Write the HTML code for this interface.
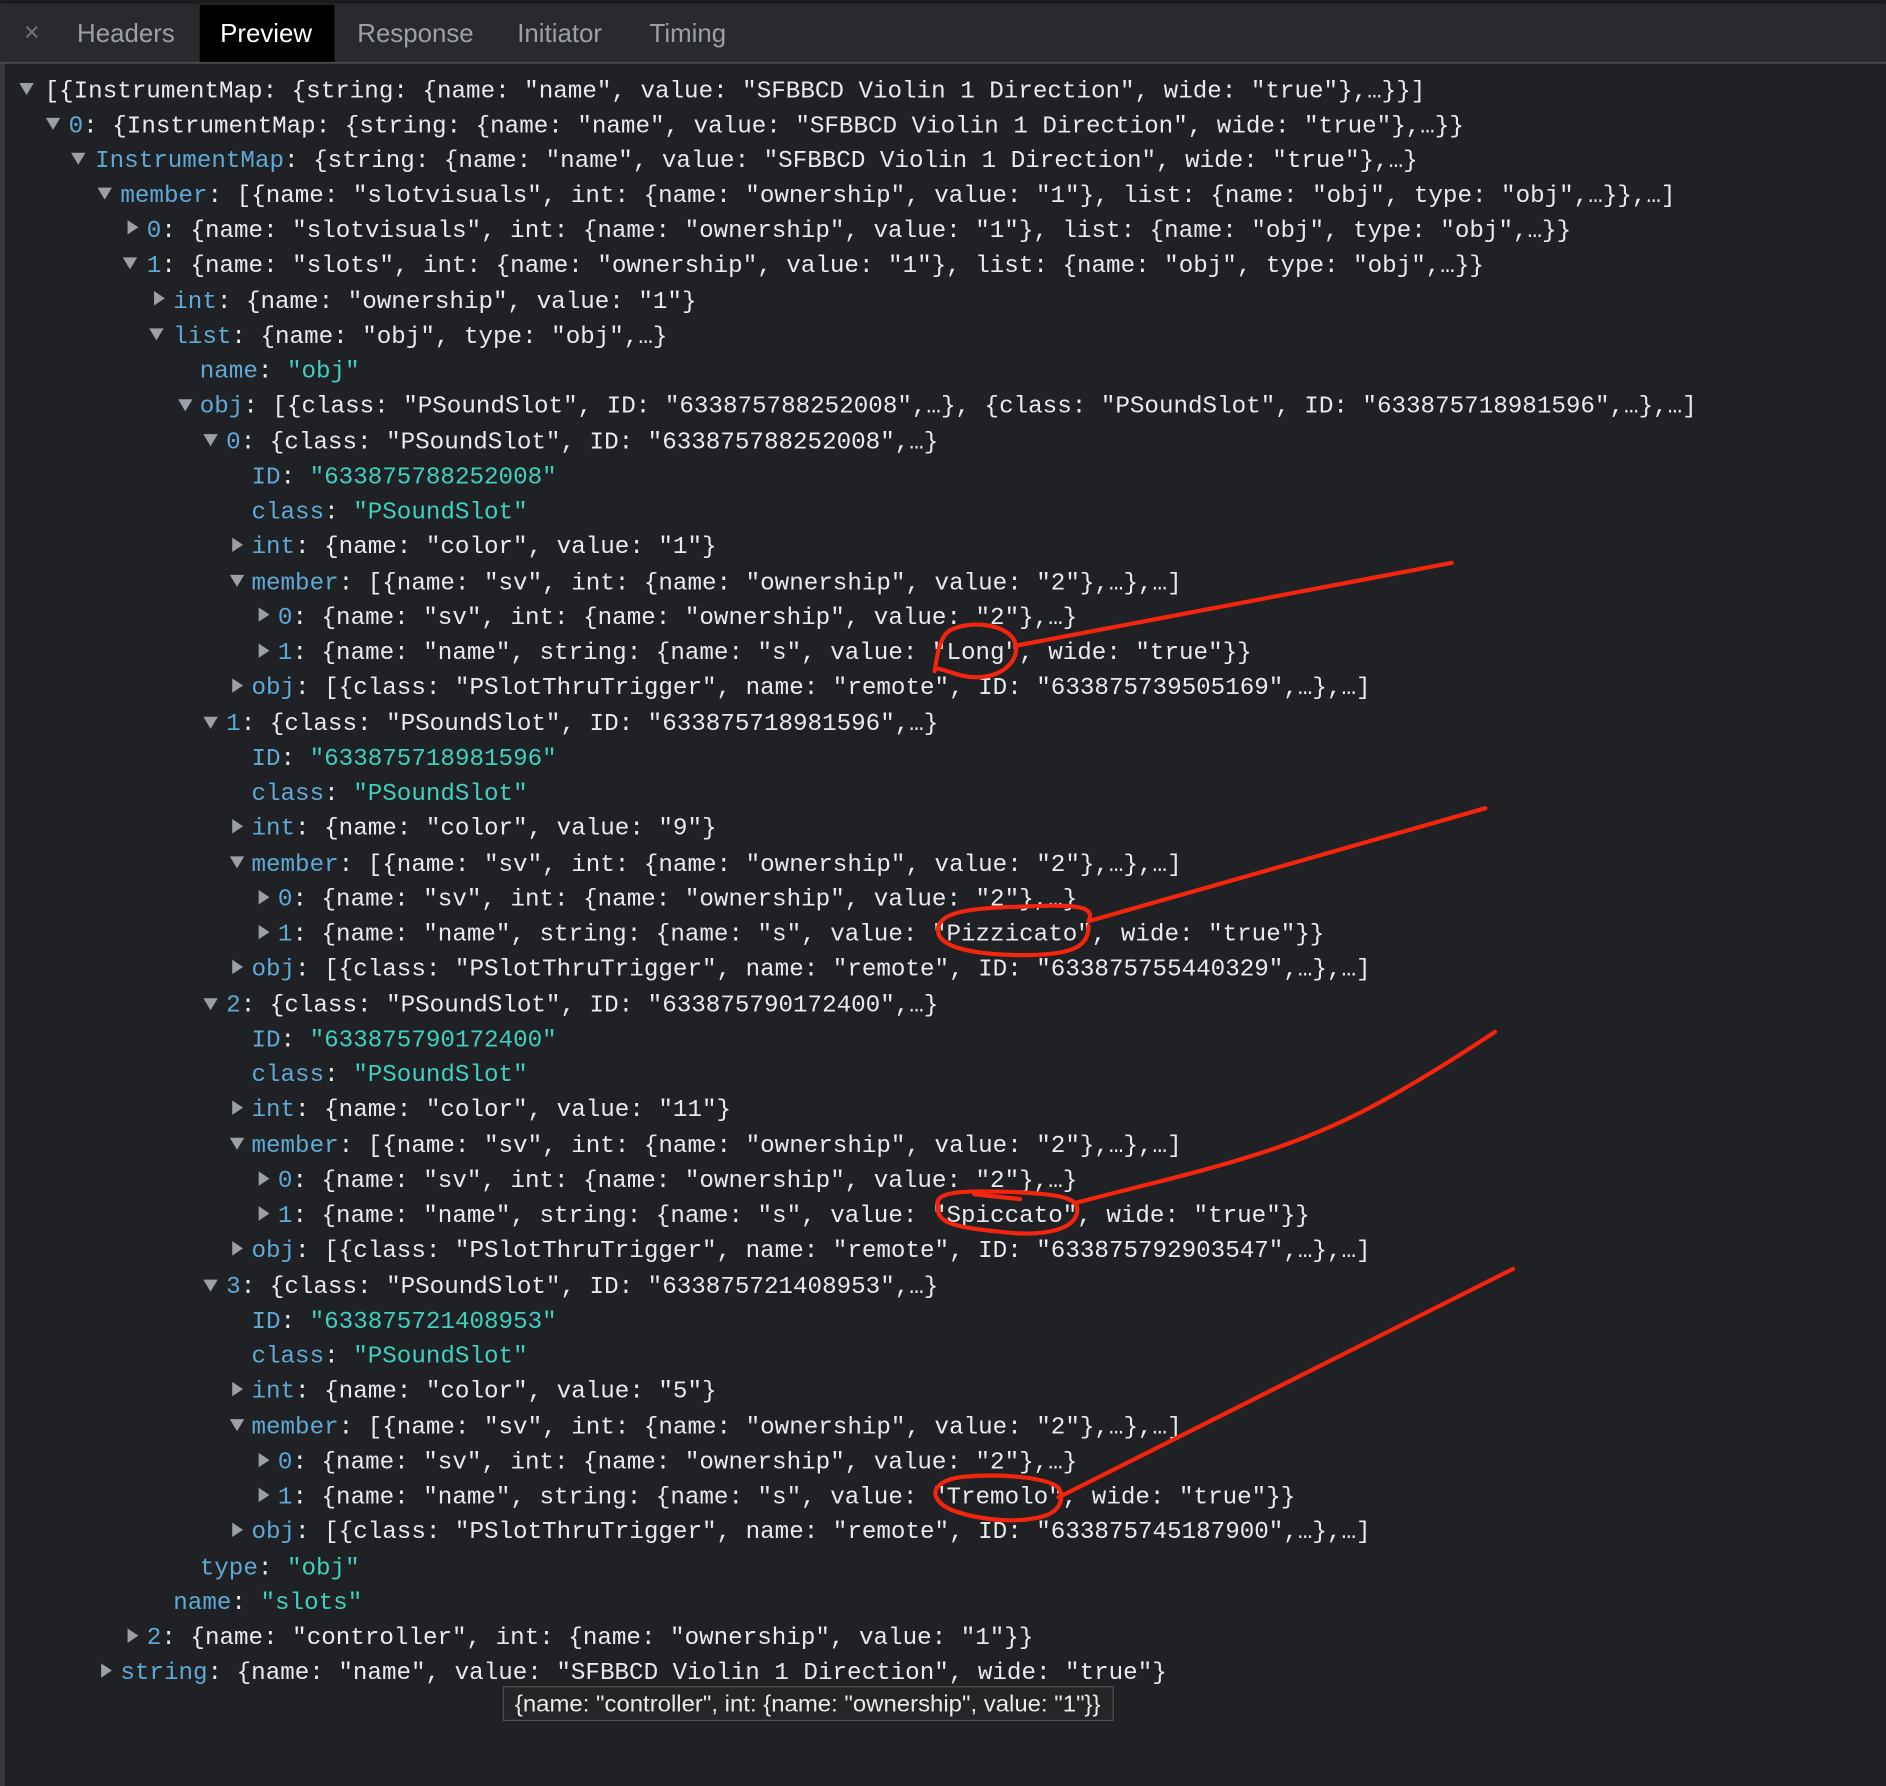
<!DOCTYPE html>
<html><head><meta charset="utf-8"><style>
html,body{margin:0;padding:0;background:#202124;width:1886px;height:1786px;overflow:hidden}
svg{display:block}
.m{font-family:"Liberation Mono","DejaVu Sans Mono",monospace;font-size:20.15px;fill:#e8eaed}
.k{fill:#5fa9d6}
.s{fill:#3fd0c0}
.tab{font-family:"Liberation Sans",sans-serif;font-size:21.5px;fill:#9aa0a6}
</style></head><body>
<svg width="1886" height="1786" viewBox="0 0 1568 1485" xmlns="http://www.w3.org/2000/svg" xml:space="preserve">
<rect x="0" y="0" width="1568" height="1485" fill="#202124"/>
<rect x="0" y="0" width="4" height="1485" fill="#3a3b3e"/>
<rect x="0" y="0" width="1568" height="52" fill="#292a2d"/>
<rect x="0" y="0" width="1568" height="3" fill="#1c1c1e"/>
<rect x="0" y="51.5" width="1568" height="1.5" fill="#4a4b4e"/>
<rect x="166" y="4" width="112" height="47.5" fill="#000"/>
<text class="tab" x="20" y="34" style="font-size:22px;fill:#777">×</text>
<text class="tab" x="64" y="35">Headers</text>
<text class="tab" x="183" y="35" style="fill:#fff">Preview</text>
<text class="tab" x="297" y="35">Response</text>
<text class="tab" x="430" y="35">Initiator</text>
<text class="tab" x="540" y="35">Timing</text>
<g fill="#9aa0a6">
<path d="M16 69 L28 69 L22 79Z"/>
<path d="M38 98 L50 98 L44 108Z"/>
<path d="M59 127 L71 127 L65 137Z"/>
<path d="M81 156 L93 156 L87 166Z"/>
<path d="M106 183 L115 189 L106 195Z"/>
<path d="M102 214 L114 214 L108 224Z"/>
<path d="M128 242 L137 248 L128 254Z"/>
<path d="M124 273 L136 273 L130 283Z"/>
<path d="M148 332 L160 332 L154 342Z"/>
<path d="M169 361 L181 361 L175 371Z"/>
<path d="M193 447 L202 453 L193 459Z"/>
<path d="M191 478 L203 478 L197 488Z"/>
<path d="M215 505 L224 511 L215 517Z"/>
<path d="M215 535 L224 541 L215 547Z"/>
<path d="M193 564 L202 570 L193 576Z"/>
<path d="M169 596 L181 596 L175 606Z"/>
<path d="M193 681 L202 687 L193 693Z"/>
<path d="M191 712 L203 712 L197 722Z"/>
<path d="M215 740 L224 746 L215 752Z"/>
<path d="M215 769 L224 775 L215 781Z"/>
<path d="M193 798 L202 804 L193 810Z"/>
<path d="M169 830 L181 830 L175 840Z"/>
<path d="M193 915 L202 921 L193 927Z"/>
<path d="M191 946 L203 946 L197 956Z"/>
<path d="M215 974 L224 980 L215 986Z"/>
<path d="M215 1003 L224 1009 L215 1015Z"/>
<path d="M193 1032 L202 1038 L193 1044Z"/>
<path d="M169 1064 L181 1064 L175 1074Z"/>
<path d="M193 1149 L202 1155 L193 1161Z"/>
<path d="M191 1180 L203 1180 L197 1190Z"/>
<path d="M215 1208 L224 1214 L215 1220Z"/>
<path d="M215 1237 L224 1243 L215 1249Z"/>
<path d="M193 1266 L202 1272 L193 1278Z"/>
<path d="M106 1354 L115 1360 L106 1366Z"/>
<path d="M84 1383 L93 1389 L84 1395Z"/>
</g>
<g class="m">
<text x="37" y="81">[{InstrumentMap: {string: {name: "name", value: "SFBBCD Violin 1 Direction", wide: "true"},…}}]</text>
<text x="57" y="110"><tspan class="k">0</tspan>: {InstrumentMap: {string: {name: "name", value: "SFBBCD Violin 1 Direction", wide: "true"},…}}</text>
<text x="79" y="139"><tspan class="k">InstrumentMap</tspan>: {string: {name: "name", value: "SFBBCD Violin 1 Direction", wide: "true"},…}</text>
<text x="100" y="168"><tspan class="k">member</tspan>: [{name: "slotvisuals", int: {name: "ownership", value: "1"}, list: {name: "obj", type: "obj",…}},…]</text>
<text x="122" y="197"><tspan class="k">0</tspan>: {name: "slotvisuals", int: {name: "ownership", value: "1"}, list: {name: "obj", type: "obj",…}}</text>
<text x="122" y="226"><tspan class="k">1</tspan>: {name: "slots", int: {name: "ownership", value: "1"}, list: {name: "obj", type: "obj",…}}</text>
<text x="144" y="256"><tspan class="k">int</tspan>: {name: "ownership", value: "1"}</text>
<text x="144" y="285"><tspan class="k">list</tspan>: {name: "obj", type: "obj",…}</text>
<text x="166" y="314"><tspan class="k">name</tspan>: <tspan class="s">"obj"</tspan></text>
<text x="166" y="343"><tspan class="k">obj</tspan>: [{class: "PSoundSlot", ID: "633875788252008",…}, {class: "PSoundSlot", ID: "633875718981596",…},…]</text>

<text x="188" y="373"><tspan class="k">0</tspan>: {class: "PSoundSlot", ID: "633875788252008",…}</text>
<text x="209" y="402"><tspan class="k">ID</tspan>: <tspan class="s">"633875788252008"</tspan></text>
<text x="209" y="431"><tspan class="k">class</tspan>: <tspan class="s">"PSoundSlot"</tspan></text>
<text x="209" y="460"><tspan class="k">int</tspan>: {name: "color", value: "1"}</text>
<text x="209" y="490"><tspan class="k">member</tspan>: [{name: "sv", int: {name: "ownership", value: "2"},…},…]</text>
<text x="231" y="519"><tspan class="k">0</tspan>: {name: "sv", int: {name: "ownership", value: "2"},…}</text>
<text x="231" y="548"><tspan class="k">1</tspan>: {name: "name", string: {name: "s", value: "Long", wide: "true"}}</text>
<text x="209" y="577"><tspan class="k">obj</tspan>: [{class: "PSlotThruTrigger", name: "remote", ID: "633875739505169",…},…]</text>

<text x="188" y="607"><tspan class="k">1</tspan>: {class: "PSoundSlot", ID: "633875718981596",…}</text>
<text x="209" y="636"><tspan class="k">ID</tspan>: <tspan class="s">"633875718981596"</tspan></text>
<text x="209" y="665"><tspan class="k">class</tspan>: <tspan class="s">"PSoundSlot"</tspan></text>
<text x="209" y="694"><tspan class="k">int</tspan>: {name: "color", value: "9"}</text>
<text x="209" y="724"><tspan class="k">member</tspan>: [{name: "sv", int: {name: "ownership", value: "2"},…},…]</text>
<text x="231" y="753"><tspan class="k">0</tspan>: {name: "sv", int: {name: "ownership", value: "2"},…}</text>
<text x="231" y="782"><tspan class="k">1</tspan>: {name: "name", string: {name: "s", value: "Pizzicato", wide: "true"}}</text>
<text x="209" y="811"><tspan class="k">obj</tspan>: [{class: "PSlotThruTrigger", name: "remote", ID: "633875755440329",…},…]</text>

<text x="188" y="841"><tspan class="k">2</tspan>: {class: "PSoundSlot", ID: "633875790172400",…}</text>
<text x="209" y="870"><tspan class="k">ID</tspan>: <tspan class="s">"633875790172400"</tspan></text>
<text x="209" y="899"><tspan class="k">class</tspan>: <tspan class="s">"PSoundSlot"</tspan></text>
<text x="209" y="928"><tspan class="k">int</tspan>: {name: "color", value: "11"}</text>
<text x="209" y="958"><tspan class="k">member</tspan>: [{name: "sv", int: {name: "ownership", value: "2"},…},…]</text>
<text x="231" y="987"><tspan class="k">0</tspan>: {name: "sv", int: {name: "ownership", value: "2"},…}</text>
<text x="231" y="1016"><tspan class="k">1</tspan>: {name: "name", string: {name: "s", value: "Spiccato", wide: "true"}}</text>
<text x="209" y="1045"><tspan class="k">obj</tspan>: [{class: "PSlotThruTrigger", name: "remote", ID: "633875792903547",…},…]</text>

<text x="188" y="1075"><tspan class="k">3</tspan>: {class: "PSoundSlot", ID: "633875721408953",…}</text>
<text x="209" y="1104"><tspan class="k">ID</tspan>: <tspan class="s">"633875721408953"</tspan></text>
<text x="209" y="1133"><tspan class="k">class</tspan>: <tspan class="s">"PSoundSlot"</tspan></text>
<text x="209" y="1162"><tspan class="k">int</tspan>: {name: "color", value: "5"}</text>
<text x="209" y="1192"><tspan class="k">member</tspan>: [{name: "sv", int: {name: "ownership", value: "2"},…},…]</text>
<text x="231" y="1221"><tspan class="k">0</tspan>: {name: "sv", int: {name: "ownership", value: "2"},…}</text>
<text x="231" y="1250"><tspan class="k">1</tspan>: {name: "name", string: {name: "s", value: "Tremolo", wide: "true"}}</text>
<text x="209" y="1279"><tspan class="k">obj</tspan>: [{class: "PSlotThruTrigger", name: "remote", ID: "633875745187900",…},…]</text>

<text x="166" y="1309"><tspan class="k">type</tspan>: <tspan class="s">"obj"</tspan></text>
<text x="144" y="1338"><tspan class="k">name</tspan>: <tspan class="s">"slots"</tspan></text>
<text x="122" y="1367"><tspan class="k">2</tspan>: {name: "controller", int: {name: "ownership", value: "1"}}</text>
<text x="100" y="1396"><tspan class="k">string</tspan>: {name: "name", value: "SFBBCD Violin 1 Direction", wide: "true"}</text>
</g>
<rect x="418.5" y="1402.5" width="507" height="28" fill="#242527" stroke="#4f5053" stroke-width="1"/>
<text x="428" y="1423" textLength="487" lengthAdjust="spacingAndGlyphs" style="font-family:'Liberation Sans',sans-serif;font-size:19px;fill:#e8eaed">{name: "controller", int: {name: "ownership", value: "1"}}</text>
<g fill="none" stroke="#f4250e" stroke-width="3.5" stroke-linecap="round">
<path d="M777 558 C779 548 780 530 790 524 C805 516 835 518 843 532 C850 547 835 562 815 563 C800 564 790 558 780 556"/>
<path d="M844 537 L1207 468"/>
<path d="M905 766 C912 752 890 752 845 754 C800 755 778 760 780 775 C782 790 820 795 860 794 C895 793 905 785 905 770"/>
<path d="M905 766 L1235 672"/>
<path d="M780 1004 C775 990 800 990 840 991 C880 993 900 995 895 1010 C890 1025 860 1028 830 1024 C800 1021 778 1018 780 1004"/>
<path d="M810 993 L848 997"/>
<path d="M895 1000 C990 975 1070 960 1150 915 C1190 893 1220 873 1243 858"/>
<path d="M880 1237 C870 1228 830 1225 800 1228 C775 1231 770 1245 790 1255 C810 1263 845 1268 870 1260 C882 1255 885 1245 880 1237"/>
<path d="M880 1245 L1258 1055"/>
</g>
</svg>
</body></html>
